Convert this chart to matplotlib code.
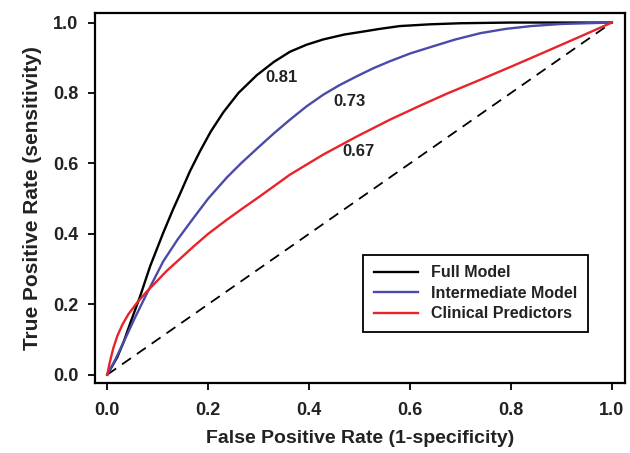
import matplotlib
matplotlib.use("Agg")
import matplotlib.pyplot as plt

plt.rcParams['font.family'] = ['Liberation Sans', 'DejaVu Sans']
plt.rcParams['font.weight'] = 'bold'

# ROC curves
full_fpr = [0, 0.01, 0.02, 0.033, 0.046, 0.065, 0.085, 0.111, 0.13, 0.145, 0.164,
            0.184, 0.205, 0.23, 0.26, 0.296, 0.33, 0.362, 0.395, 0.428, 0.47, 0.51,
            0.54, 0.58, 0.64, 0.7, 0.8, 1.0]
full_tpr = [0, 0.025, 0.05, 0.095, 0.148, 0.222, 0.308, 0.403, 0.468, 0.516, 0.578,
            0.635, 0.69, 0.745, 0.8, 0.85, 0.888, 0.917, 0.937, 0.952, 0.966, 0.975,
            0.982, 0.99, 0.995, 0.998, 1.0, 1.0]

inter_fpr = [0, 0.015, 0.032, 0.055, 0.079, 0.111, 0.14, 0.171, 0.2, 0.237, 0.265,
             0.296, 0.33, 0.362, 0.395, 0.428, 0.46, 0.494, 0.527, 0.56, 0.6, 0.64,
             0.69, 0.74, 0.79, 0.84, 0.9, 1.0]
inter_tpr = [0, 0.04, 0.091, 0.162, 0.232, 0.322, 0.385, 0.445, 0.5, 0.56, 0.6,
             0.641, 0.685, 0.724, 0.762, 0.795, 0.822, 0.847, 0.87, 0.89, 0.912, 0.93,
             0.952, 0.97, 0.982, 0.99, 0.996, 1.0]

clin_fpr = [0, 0.005, 0.012, 0.02, 0.03, 0.042, 0.06, 0.079, 0.1, 0.118, 0.145,
            0.171, 0.2, 0.237, 0.27, 0.303, 0.362, 0.428, 0.494, 0.56, 0.62, 0.673,
            0.74, 0.804, 0.87, 0.937, 1.0]
clin_tpr = [0, 0.035, 0.075, 0.11, 0.142, 0.172, 0.206, 0.237, 0.268, 0.295, 0.33,
            0.364, 0.4, 0.44, 0.474, 0.507, 0.568, 0.625, 0.676, 0.724, 0.764, 0.798,
            0.838, 0.877, 0.918, 0.96, 1.0]

auc_labels = ['0.81', '0.73', '0.67']
auc_pos = [(0.346, 0.843), (0.481, 0.776), (0.498, 0.634)]

fig = plt.figure(figsize=(6.3, 4.53), dpi=100)
ax = fig.add_axes([0.151, 0.155, 0.841, 0.817])

ax.plot([0, 1], [0, 1], color='black', lw=1.3, ls=(0, (6, 4)))
ax.plot(full_fpr, full_tpr, color='black', lw=1.7, label='Full Model')
ax.plot(inter_fpr, inter_tpr, color='#4a4aa8', lw=1.7, label='Intermediate Model')
ax.plot(clin_fpr, clin_tpr, color='#e8232a', lw=1.7, label='Clinical Predictors')

for txt, (x, y) in zip(auc_labels, auc_pos):
    ax.text(x, y, txt, ha='center', va='center', fontsize=12, fontweight='bold',
            color='#222222')

ax.set_xlim(-0.024, 1.026)
ax.set_ylim(-0.023, 1.028)
ax.set_xticks([0, 0.2, 0.4, 0.6, 0.8, 1.0])
ax.set_yticks([0, 0.2, 0.4, 0.6, 0.8, 1.0])
ax.set_xticklabels(['0.0', '0.2', '0.4', '0.6', '0.8', '1.0'])
ax.set_yticklabels(['0.0', '0.2', '0.4', '0.6', '0.8', '1.0'])
ax.tick_params(direction='out', length=5, width=1.3, labelsize=13,
               labelcolor='#222222')
ax.tick_params(axis='x', pad=9)
ax.tick_params(axis='y', pad=7)
for s in ax.spines.values():
    s.set_linewidth(1.6)

ax.set_xlabel('False Positive Rate (1-specificity)', fontsize=14,
              fontweight='bold', color='#222222', labelpad=8)
ax.set_ylabel('True Positive Rate (sensitivity)', fontsize=15,
              fontweight='bold', color='#222222', labelpad=8)

leg = ax.legend(loc='lower right', bbox_to_anchor=(0.93, 0.138), borderaxespad=0,
                fancybox=False, edgecolor='black', framealpha=1, fontsize=11.5,
                handlelength=2.8, labelspacing=0.35, borderpad=0.65)
leg.get_frame().set_linewidth(1.3)
for t in leg.get_texts():
    t.set_color('#222222')

fig.savefig('out.png', dpi=100)
